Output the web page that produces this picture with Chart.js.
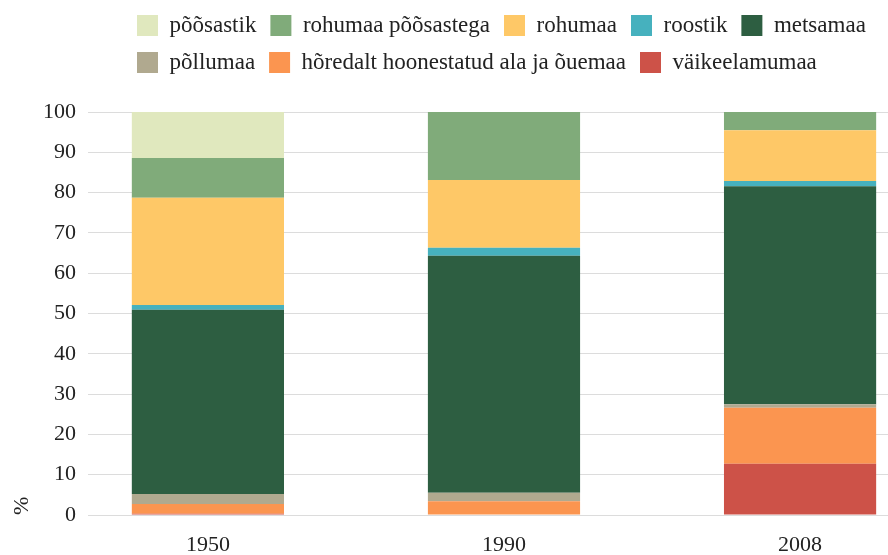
<!DOCTYPE html>
<html>
<head>
    <title>Maakasutus</title>
    <script src="https://cdn.jsdelivr.net/npm/chart.js@4/dist/chart.umd.min.js"></script>
    <style>
        body {
            margin: 0;
            background: #FFFFFF;
            overflow: hidden;
        }
        #chart-div {
            width: 888px;
            height: 555px;
        }
    </style>
</head>
<body>
    <div id="chart-div"><canvas id="chart"></canvas></div>

<script type="text/javascript">
    // years on the x axis
    const years = ['1950', '1990', '2008'];

    // shares in %, bottom of the stack first
    const vaikeelamumaa = [0.3, 0, 12.7];
    const horedalt = [2.4, 3.4, 13.9];
    const pollumaa = [2.5, 2.1, 0.9];
    const metsamaa = [45.7, 58.8, 54.1];
    const roostik = [1.2, 2.0, 1.3];
    const rohumaa = [26.6, 16.8, 12.6];
    const rohumaaPoosastega = [9.9, 16.9, 4.5];
    const poosastik = [11.4, 0, 0];

    const yTicks = [0, 100, 10]; // min, max, step

    function points(values) {
        return values.map((v, i) => ({x: i, y: v}));
    }

    // legend rows start a bit right of the plot's left edge
    const legendShift = {
        id: 'legendShift',
        afterLayout(chart) {
            chart.legend.left += 35;
            chart.legend.right += 35;
        }
    };

    Chart.defaults.font.family = "'Liberation Serif', 'DejaVu Serif', serif";
    Chart.defaults.color = '#222222';

    let chart = new Chart(document.getElementById('chart').getContext('2d'), {
        type: 'bar',
        data: {
            datasets: [
                {label: 'väikeelamumaa', data: points(vaikeelamumaa), backgroundColor: '#cd5248'},
                {label: 'hõredalt hoonestatud ala ja õuemaa', data: points(horedalt), backgroundColor: '#fb9550'},
                {label: 'põllumaa', data: points(pollumaa), backgroundColor: '#b0a98f'},
                {label: 'metsamaa', data: points(metsamaa), backgroundColor: '#2d5e41'},
                {label: 'roostik', data: points(roostik), backgroundColor: '#46b1be'},
                {label: 'rohumaa', data: points(rohumaa), backgroundColor: '#fec867'},
                {label: 'rohumaa põõsastega', data: points(rohumaaPoosastega), backgroundColor: '#80ab7a'},
                {label: 'põõsastik', data: points(poosastik), backgroundColor: '#e0e8be'}
            ]
        },
        plugins: [legendShift],
        options: {
            responsive: true,
            maintainAspectRatio: false,
            animation: false,
            barPercentage: 0.514,
            categoryPercentage: 1,
            plugins: {
                tooltip: {enabled: false},
                legend: {
                    position: 'top',
                    fullSize: false,
                    weight: 3000,
                    align: 'start',
                    reverse: true,
                    labels: {
                        boxWidth: 21,
                        boxHeight: 21,
                        padding: 14,
                        color: '#222222',
                        font: {size: 23}
                    }
                },
                // empty spacer between legend and plot
                subtitle: {
                    display: true,
                    text: '',
                    position: 'top',
                    fullSize: false,
                    padding: {top: 0, bottom: 16},
                    font: {size: 10, lineHeight: 1.2}
                }
            },
            scales: {
                x: {
                    type: 'linear',
                    stacked: true,
                    offset: false,
                    min: -0.405,
                    max: 2.297,
                    afterBuildTicks: (scale) => {
                        scale.ticks = years.map((_, i) => ({value: i}));
                    },
                    afterFit: (scale) => {
                        scale.height = 40;
                    },
                    grid: {display: false},
                    border: {display: false},
                    ticks: {
                        callback: (v) => years[v],
                        padding: 9,
                        maxRotation: 0,
                        font: {size: 22}
                    }
                },
                y: {
                    stacked: true,
                    min: yTicks[0],
                    max: yTicks[1],
                    afterFit: (scale) => {
                        scale.width = 88;
                    },
                    grid: {color: '#dcdcdc', drawTicks: false},
                    border: {display: false},
                    ticks: {
                        stepSize: yTicks[2],
                        padding: 12,
                        font: {size: 22}
                    },
                    title: {
                        display: true,
                        text: '%',
                        align: 'start',
                        padding: {top: 9, bottom: 4},
                        font: {size: 22}
                    }
                }
            }
        }
    });
</script>

</body>
</html>
